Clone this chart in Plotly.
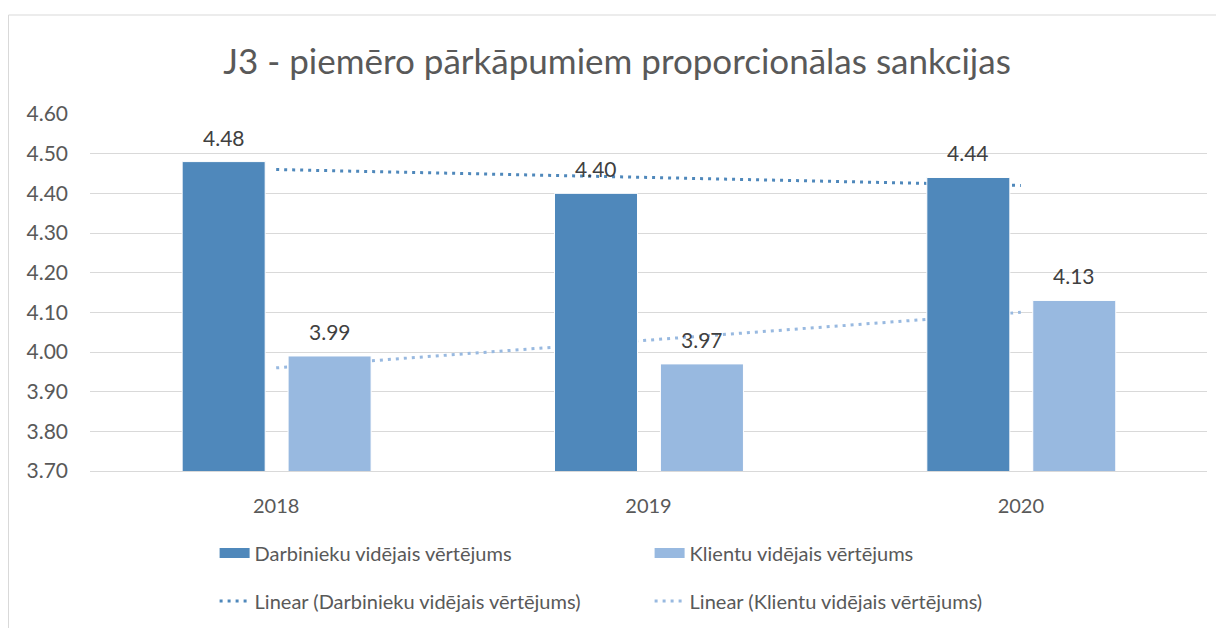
import numpy as np
import plotly.graph_objects as go

# ---- data ----
years = ["2018", "2019", "2020"]
darbinieku = [4.48, 4.40, 4.44]
klientu = [3.99, 3.97, 4.13]
y_ticks = [3.70, 3.80, 3.90, 4.00, 4.10, 4.20, 4.30, 4.40, 4.50, 4.60]
title_text = "J3 - piemēro pārkāpumiem proporcionālas sankcijas"
name_d = "Darbinieku vidējais vērtējums"
name_k = "Klientu vidējais vērtējums"

# ---- style ----
DARK = "#4F88BB"
LIGHT = "#98B9E0"
TEXT = "#595959"
LABEL = "#404040"
GRID = "#D9D9D9"
FONT = "Lato"
BAR_W = 0.223
OFF_D = -0.2525
OFF_K = 0.032
DOTS = "3px,5px"

W, H = 1216, 620
L, R, T, B = 82, 17, 106, 157
PH = H - T - B

xi = np.arange(len(years))


def linear_trend(vals):
    k, b = np.polyfit(xi, np.asarray(vals, dtype=float), 1)
    return k * xi + b


fig = go.Figure()

# trendlines on the main axes (drawn beneath the bars)
fig.add_trace(go.Scatter(
    x=years, y=linear_trend(darbinieku), mode="lines",
    name="Linear (" + name_d + ")",
    line=dict(color=DARK, width=3, dash=DOTS),
    legend="legend2", xaxis="x", yaxis="y", hoverinfo="skip"))
fig.add_trace(go.Scatter(
    x=years, y=linear_trend(klientu), mode="lines",
    name="Linear (" + name_k + ")",
    line=dict(color=LIGHT, width=3, dash=DOTS),
    legend="legend2", xaxis="x", yaxis="y", hoverinfo="skip"))

# bars on the overlaying axes
fig.add_trace(go.Bar(
    x=years, y=darbinieku, name=name_d, width=BAR_W, offset=OFF_D,
    marker=dict(color=DARK, line=dict(color="#FFFFFF", width=1)),
    showlegend=False, xaxis="x2", yaxis="y2"))
fig.add_trace(go.Bar(
    x=years, y=klientu, name=name_k, width=BAR_W, offset=OFF_K,
    marker=dict(color=LIGHT, line=dict(color="#FFFFFF", width=1)),
    showlegend=False, xaxis="x2", yaxis="y2"))

# legend entries for the bars (wide rectangular swatches)
for nm, col in ((name_d, DARK), (name_k, LIGHT)):
    fig.add_trace(go.Scatter(
        x=[None], y=[None], mode="lines", name=nm,
        line=dict(color=col, width=13), legend="legend",
        xaxis="x2", yaxis="y2", hoverinfo="skip"))

# data labels
for vals, off in ((darbinieku, OFF_D), (klientu, OFF_K)):
    for i, v in enumerate(vals):
        fig.add_annotation(
            x=i + off + BAR_W / 2, y=v, xref="x2", yref="y2",
            text=f"{v:.2f}", showarrow=False, yanchor="bottom", yshift=10,
            font=dict(family=FONT, size=21, color=LABEL))

# outer chart border
fig.add_shape(type="rect", xref="paper", yref="paper",
              x0=(0.5 - L) / (W - L - R), x1=1.05,
              y0=-0.5, y1=(PH + T - 7) / PH,
              line=dict(color=GRID, width=1), fillcolor="rgba(0,0,0,0)",
              layer="below")

yr = [y_ticks[0], y_ticks[-1]]
leg_common = dict(orientation="h", xref="container", yref="container",
                  x=206.6 / W, xanchor="left", yanchor="middle",
                  entrywidth=390, entrywidthmode="pixels",
                  font=dict(family=FONT, size=20, color=TEXT),
                  bgcolor="rgba(0,0,0,0)")
fig.update_layout(
    width=W, height=H,
    margin=dict(l=L, r=R, t=T, b=B, autoexpand=False),
    paper_bgcolor="white", plot_bgcolor="white",
    barmode="overlay",
    font=dict(family=FONT, color=TEXT),
    title=dict(text=title_text, x=609 / W, xref="container", xanchor="center",
               y=1 - 54 / H, yref="container", yanchor="middle",
               font=dict(family=FONT, size=35, color=TEXT)),
    xaxis=dict(type="category", range=[-0.5, 2.5], showgrid=False,
               showline=True, linecolor=GRID, linewidth=1, ticks="",
               tickfont=dict(size=20, color=TEXT), ticklabelstandoff=17,
               zeroline=False),
    yaxis=dict(range=yr, tickvals=y_ticks, tickformat=".2f",
               showgrid=True, gridcolor=GRID, gridwidth=1,
               showline=False, zeroline=False, ticks="",
               tickfont=dict(size=21, color=TEXT), ticklabelstandoff=21),
    xaxis2=dict(type="category", range=[-0.5, 2.5], overlaying="x",
                anchor="y2", visible=False),
    yaxis2=dict(range=yr, overlaying="y", anchor="x2", visible=False),
    legend=dict(leg_common, y=1 - 545 / H),
    legend2=dict(leg_common, y=1 - 593 / H),
    showlegend=True,
)

fig.write_html("out.html")
